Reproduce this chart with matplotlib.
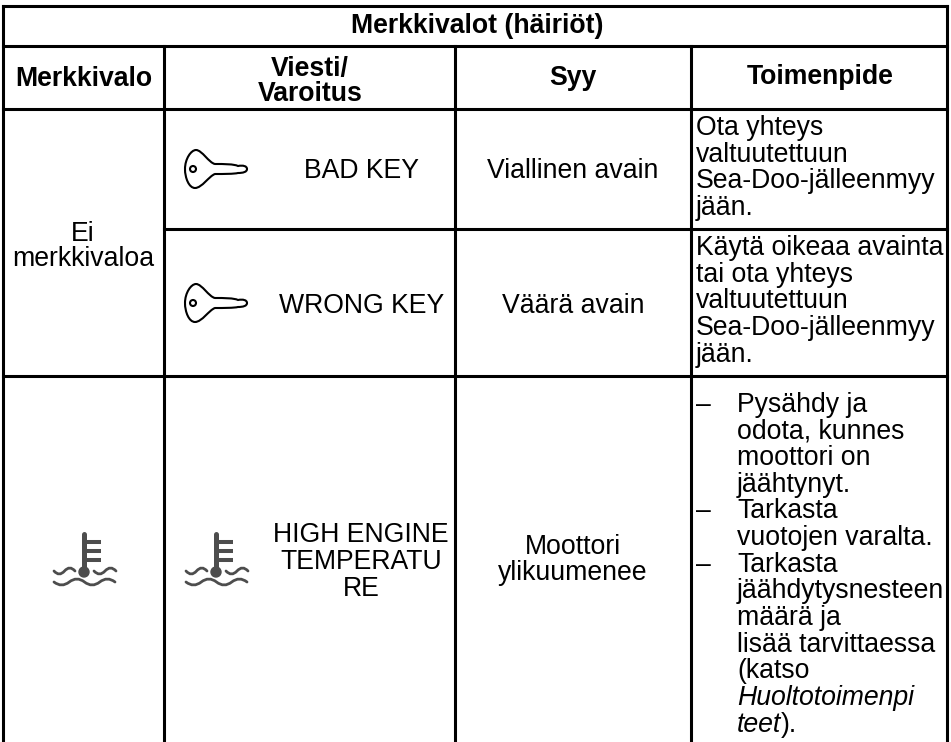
import matplotlib
matplotlib.use("Agg")
import matplotlib.pyplot as plt
from matplotlib.patches import Ellipse, PathPatch
from matplotlib.path import Path

title = "Merkkivalot (häiriöt)"
headers = ["Merkkivalo", "Viesti/", "Varoitus", "Syy", "Toimenpide"]
col_x = [3, 164, 455, 691, 947]
row_y = [6, 46, 109, 229, 376, 742]

warnings = ["BAD KEY", "WRONG KEY", "HIGH ENGINE", "TEMPERATU", "RE"]
causes = ["Viallinen avain", "Väärä avain", "Moottori", "ylikuumenee"]
action1 = ["Ota yhteys", "valtuutettuun", "Sea-Doo-jälleenmyy", "jään."]
action2 = ["Käytä oikeaa avainta", "tai ota yhteys", "valtuutettuun", "Sea-Doo-jälleenmyy", "jään."]
action3 = [("–", "Pysähdy ja"), ("", "odota, kunnes"), ("", "moottori on"), ("", "jäähtynyt."),
           ("–", "Tarkasta"), ("", "vuotojen varalta."),
           ("–", "Tarkasta"), ("", "jäähdytysnesteen"), ("", "määrä ja"), ("", "lisää tarvittaessa"),
           ("", "(katso")]

plt.rcParams["font.family"] = ["Liberation Sans", "DejaVu Sans"]

fig = plt.figure(figsize=(9.51, 7.42), dpi=100)
ax = fig.add_axes([0, 0, 1, 1])
ax.set_xlim(0, 951)
ax.set_ylim(742, 0)
ax.axis("off")

fs = 19.2
lw = 2.2
step = 26.7


def hline(y, x0, x1):
    ax.plot([x0, x1], [y, y], color="black", lw=lw, solid_capstyle="projecting")


def vline(x, y0, y1):
    ax.plot([x, x], [y0, y1], color="black", lw=lw, solid_capstyle="projecting")


def key_icon(cx, cy):
    verts = [(cx - 31, cy), (cx - 31, cy - 10), (cx - 25, cy - 19), (cx - 20, cy - 19),
             (cx - 14, cy - 19), (cx - 7, cy - 6), (cx - 1, cy - 5),
             (cx + 8, cy - 5), (cx + 18, cy - 5), (cx + 22, cy - 3),
             (cx + 27, cy - 4), (cx + 31, cy - 3), (cx + 31, cy),
             (cx + 31, cy + 3), (cx + 27, cy + 4), (cx + 22, cy + 4),
             (cx + 18, cy + 5), (cx + 8, cy + 5), (cx - 1, cy + 5),
             (cx - 7, cy + 7), (cx - 14, cy + 19), (cx - 21, cy + 19),
             (cx - 27, cy + 19), (cx - 31, cy + 9), (cx - 31, cy)]
    codes = [Path.MOVETO] + [Path.CURVE4] * 24
    ax.add_patch(PathPatch(Path(verts, codes), fc="white", ec="black", lw=1.5))
    ax.add_patch(Ellipse((cx - 23, cy), 6, 6, fc="white", ec="black", lw=1.5))


def wave(x0, x1, y, n):
    # n full periods drawn as quadratic bumps
    w = (x1 - x0) / n / 2
    verts = [(x0, y)]
    codes = [Path.MOVETO]
    for i in range(n * 2):
        sign = 1 if i % 2 == 0 else -1
        verts += [(x0 + w * (i + 0.5), y + sign * 6), (x0 + w * (i + 1), y)]
        codes += [Path.CURVE3, Path.CURVE3]
    ax.add_patch(PathPatch(Path(verts, codes), fc="none", ec="#4d4d4d", lw=2.0, capstyle="round"))


def temp_icon(cx, cy):
    c = "#4d4d4d"
    ax.plot([cx, cx], [cy - 38, cy - 2], color=c, lw=3.6, solid_capstyle="round")
    for dy in [-30, -21, -12]:
        ax.plot([cx, cx + 17], [cy + dy, cy + dy], color=c, lw=2.9, solid_capstyle="butt")
    ax.add_patch(Ellipse((cx, cy), 10, 10, fc=c, ec=c))
    wave(cx - 30, cx - 9, cy - 1, 1)
    wave(cx + 10, cx + 32, cy - 1, 1)
    wave(cx - 30, cx + 31, cy + 10, 2)


def put(x, y, s, ha="center", **kw):
    return ax.text(x, y, s, ha=ha, va="baseline", fontsize=fs, **kw)


hline(row_y[0], col_x[0], col_x[-1])
for y in row_y[1:5]:
    hline(y, col_x[0] if y != row_y[3] else col_x[1], col_x[-1])
vline(col_x[0], row_y[0], 742)
vline(col_x[-1], row_y[0], 742)
for x in col_x[1:-1]:
    vline(x, row_y[1], 742)

put(477, 33, title, fontweight="bold")
put(84, 86.5, headers[0], fontweight="bold")
put(310, 76, headers[1], fontweight="bold")
put(310, 101, headers[2], fontweight="bold")
put(573, 85, headers[3], fontweight="bold")
put(820, 84.5, headers[4], fontweight="bold")

put(83, 241, "Ei")
put(83, 266, "merkkivaloa")
temp_icon(84, 572)
key_icon(216, 169)
key_icon(216, 303)
temp_icon(216, 572)

put(362, 178, warnings[0])
put(362, 313, warnings[1])
put(361, 542, warnings[2])
put(361, 569, warnings[3])
put(361, 596, warnings[4])

put(573, 178, causes[0])
put(573, 313, causes[1])
put(573, 554, causes[2])
put(573, 580, causes[3])

for k, line in enumerate(action1):
    put(696, 135 + k * step, line, ha="left")
for k, line in enumerate(action2):
    put(696, 255 + k * step, line, ha="left")
for k, (dash, line) in enumerate(action3):
    if dash:
        put(696, 411.5 + k * step, dash, ha="left")
    put(737, 411.5 + k * step, line, ha="left")
put(737, 411.5 + 11 * step, "Huoltotoimenpi", ha="left", style="italic")
last = put(737, 411.5 + 12 * step, "teet", ha="left", style="italic")
# the upright ")." goes right after the italic word, on the same baseline
x1 = last.get_window_extent(fig.canvas.get_renderer()).x1
put(ax.transData.inverted().transform((x1, 0))[0], 411.5 + 12 * step, ").", ha="left")

fig.savefig("out.png", dpi=100)
